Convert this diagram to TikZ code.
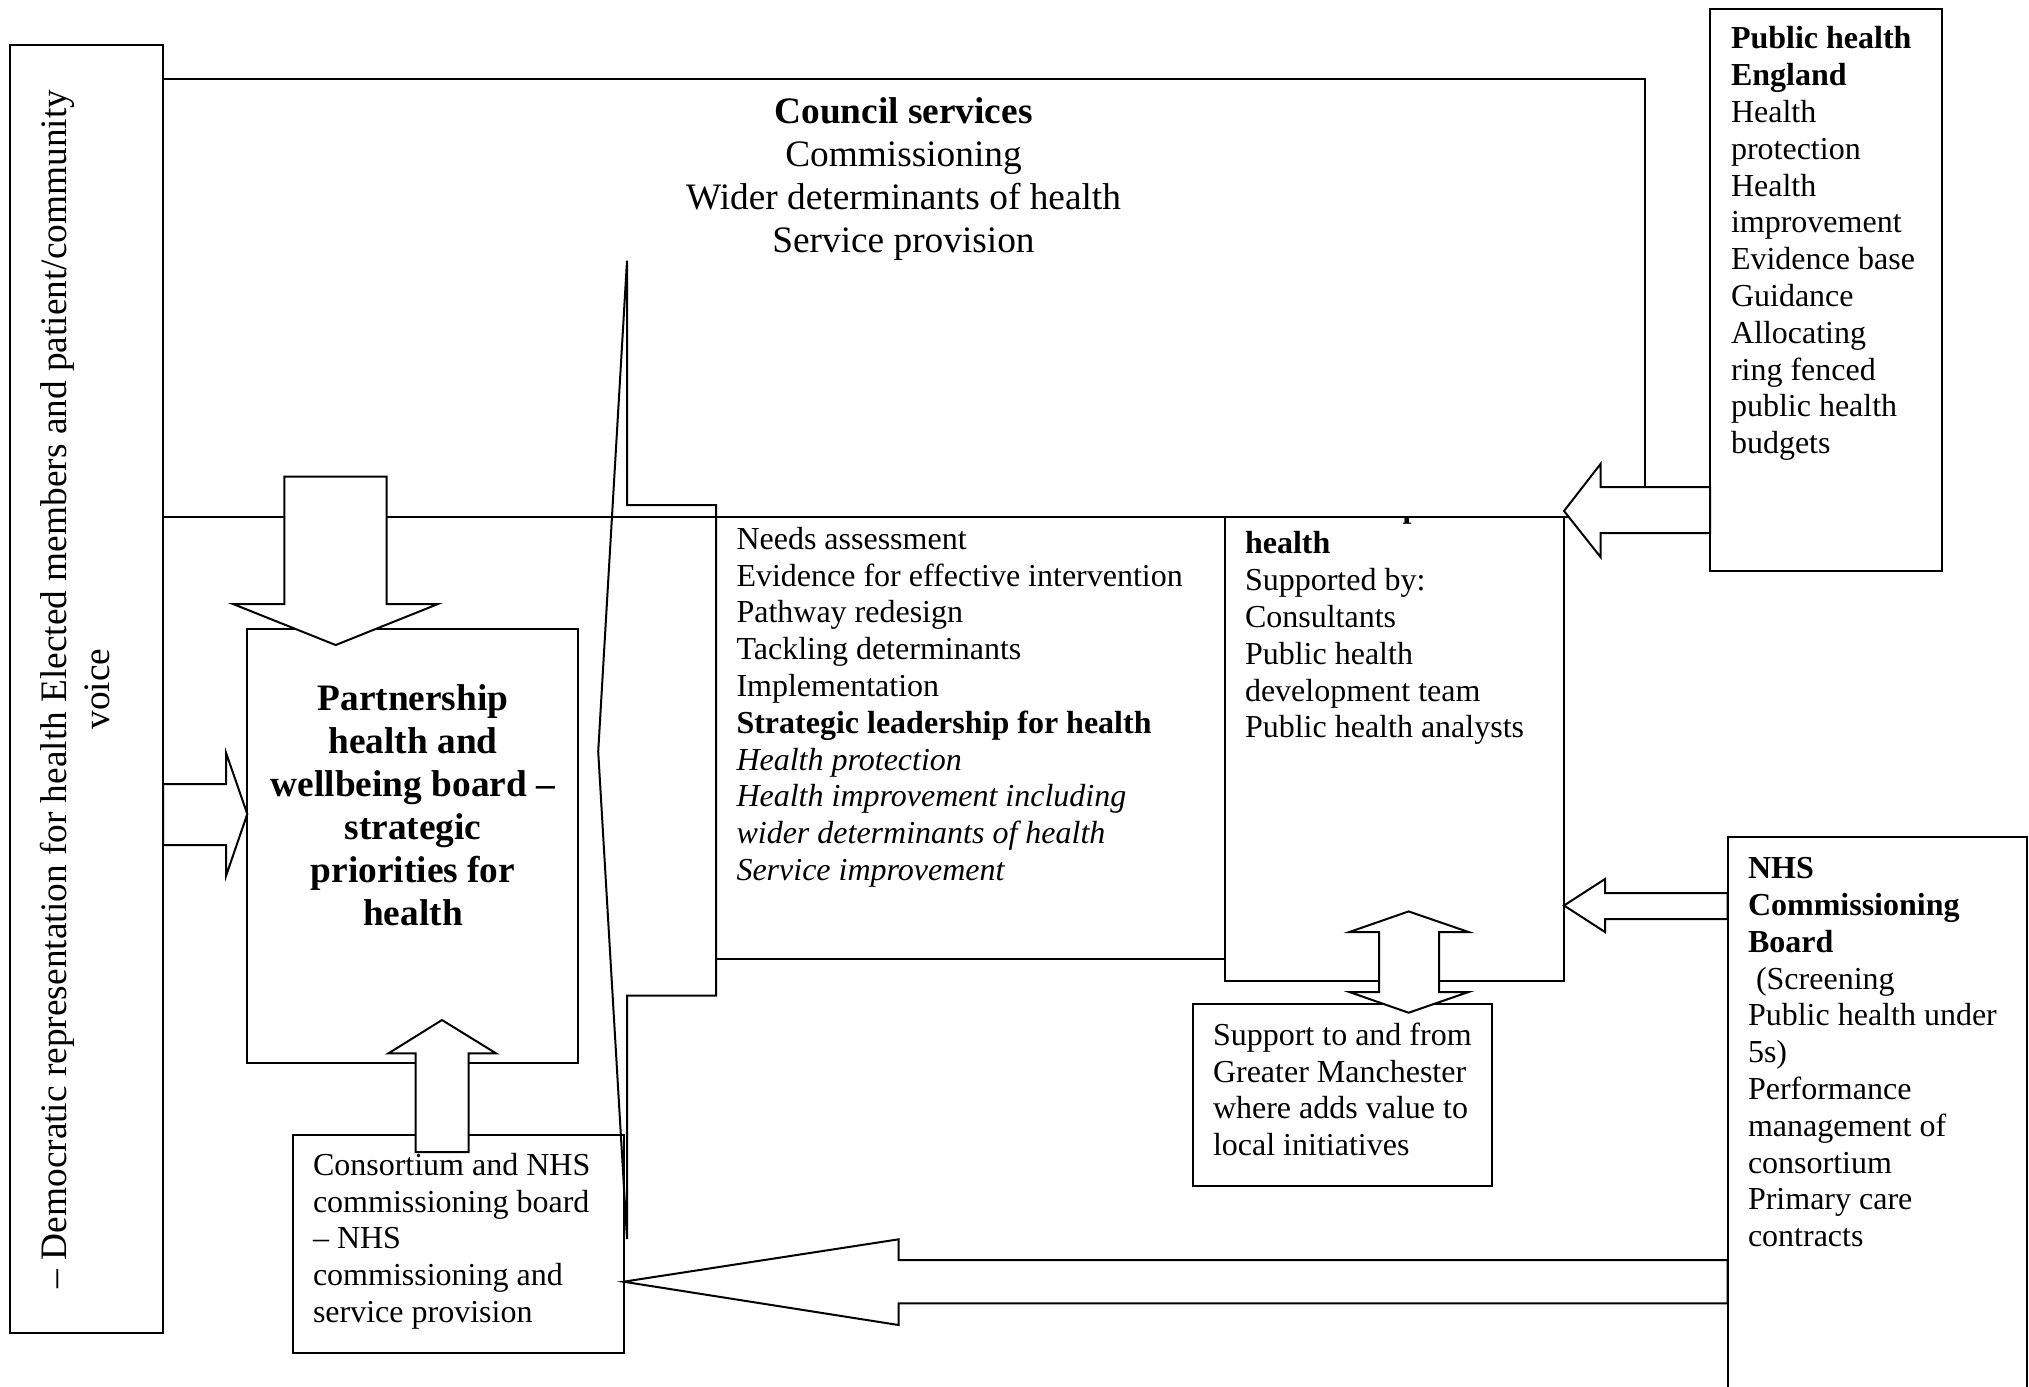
\documentclass[tikz,border=0pt]{standalone}
\usepackage{fontspec}
\setmainfont{Liberation Serif}
\usetikzlibrary{fit}
\begin{document}
\begin{tikzpicture}[x=0.375pt,y=-0.375pt,
  every node/.style={inner sep=0pt,outer sep=0pt},
  frame/.style={draw,line width=0.75pt,fill=white},
  outline/.style={draw,line width=0.75pt,line join=miter},
  blk/.style={draw,line width=0.75pt,fill=white,line join=miter},
  txt/.style={font=\fontsize{12}{13.8}\selectfont,align=left,anchor=north west},
  bigtxt/.style={font=\fontsize{14}{16.1}\selectfont,align=center,anchor=north}]
\useasboundingbox (0,0) rectangle (2029,1386);
\clip (0,0) rectangle (2029,1386);

% ---- boxes ----
\node[frame,fit={(10,45) (163,1333)}] (lbox) {};
\node[frame,fit={(1225,516.7) (1564,981)}] (dph) {};
\node[frame,fit={(163,79) (1645,516.5)}] (council) {};
\node[frame,fit={(716,516.5) (1225,959.4)}] (mid) {};
\node[frame,fit={(1710,9) (1942,571)}] (phe) {};
\node[frame,fit={(1727.5,837) (2027,1500)}] (nhs) {};
\node[frame,fit={(1193,1004.4) (1492,1185.7)}] (support) {};
\node[frame,fit={(292.5,1134.5) (623.5,1352.7)}] (consort) {};
\node[frame,fit={(247.3,628.5) (578,1063)}] (partner) {};

% ---- bracket callout shape ----
\draw[outline] (627,260.7) -- (627,505) -- (716,505) -- (716,995.5) -- (627,995.5)
  -- (627,1239) -- (598.2,751.5) -- cycle;

% ---- block arrows ----
% Public health England -> Director of public health
\draw[blk] (1564,511) -- (1600.5,464) -- (1600.5,487) -- (1710,487) -- (1710,533)
  -- (1600.5,533) -- (1600.5,557) -- cycle;
% NHS Commissioning Board -> Director of public health
\draw[blk] (1564,905.5) -- (1605,879) -- (1605,893) -- (1727.5,893) -- (1727.5,919)
  -- (1605,919) -- (1605,932) -- cycle;
% NHS Commissioning Board -> Consortium
\draw[blk] (623.5,1281.7) -- (898.6,1239.3) -- (898.6,1260) -- (1727.5,1260)
  -- (1727.5,1303.3) -- (898.6,1303.3) -- (898.6,1325) -- cycle;
% Council -> Partnership (down)
\draw[blk] (284.4,476.5) -- (386.6,476.5) -- (386.6,604) -- (438,604) -- (335.7,645)
  -- (233,604) -- (284.4,604) -- cycle;
% Democratic representation -> Partnership (right)
\draw[blk] (163,784) -- (226,784) -- (226,752.7) -- (247.3,814) -- (226,876)
  -- (226,845) -- (163,845) -- cycle;
% Consortium -> Partnership (up)
\draw[blk] (442,1020) -- (496,1053.3) -- (468.5,1053.3) -- (468.5,1152.2)
  -- (415.5,1152.2) -- (415.5,1053.3) -- (388.5,1053.3) -- cycle;
% Director of public health <-> Greater Manchester support
\draw[blk] (1408.6,911.4) -- (1468.5,932) -- (1439,932) -- (1439,992) -- (1468.5,992)
  -- (1408.6,1012.7) -- (1349.4,992) -- (1379,992) -- (1379,932) -- (1349.4,932) -- cycle;

% ---- texts ----
\node[rotate=90,bigtxt] (lbox-t) at (36.6,689)
  {\strut– Democratic representation for health Elected members and patient/community\\voice};

\node[bigtxt] (council-t) at (903.5,93.3)
  {\strut\textbf{Council services}\\Commissioning\\Wider determinants of health\\Service provision};

\node[bigtxt,font=\fontsize{14}{16.1}\selectfont\bfseries] (partner-t) at (413,680.5)
  {\strut Partnership\\health and\\wellbeing board –\\strategic\\priorities for\\health};

\node[txt] (mid-t) at (736.5,523.5)
  {\strut Needs assessment\\Evidence for effective intervention\\Pathway redesign\\
   Tackling determinants\\Implementation\\\textbf{Strategic leadership for health}\\
   \textit{Health protection}\\\textit{Health improvement including}\\
   \textit{wider determinants of health}\\\textit{Service improvement}};

\begin{scope}
\clip (1225,517.7) rectangle (1564,981);
\node[txt] (dph-t) at (1245,491.4)
  {\strut\textbf{Director of public}\\\textbf{health}\\Supported by:\\Consultants\\
   Public health\\development team\\Public health analysts};
\end{scope}

\node[txt] (phe-t) at (1731,23.2)
  {\strut\textbf{Public health}\\\textbf{England}\\Health\\protection\\Health\\improvement\\
   Evidence base\\Guidance\\Allocating\\ring fenced\\public health\\budgets};

\node[txt] (nhs-t) at (1748,853)
  {\strut\textbf{NHS}\\\textbf{Commissioning}\\\textbf{Board}\\\ (Screening\\
   Public health under\\5s)\\Performance\\management of\\consortium\\Primary care\\contracts};

\node[txt] (support-t) at (1213,1019.5)
  {\strut Support to and from\\Greater Manchester\\where adds value to\\local initiatives};

\node[txt] (consort-t) at (313,1149.5)
  {\strut Consortium and NHS\\commissioning board\\– NHS\\commissioning and\\service provision};
\end{tikzpicture}
\end{document}
